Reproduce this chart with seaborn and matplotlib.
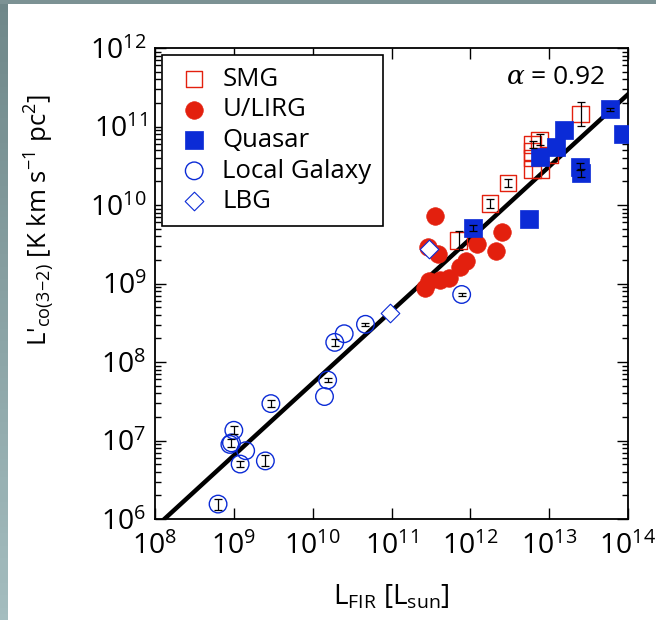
import numpy as np
import matplotlib
matplotlib.use("Agg")
import matplotlib.pyplot as plt
import pandas as pd
import seaborn as sns

# log10 values
smg_lfir = [13.40, 12.88, 12.79, 12.78, 12.78, 12.89, 12.79, 13.01, 12.48, 12.25, 11.85]
smg_lco = [11.16, 10.83, 10.77, 10.68, 10.60, 10.45, 10.45, 10.64, 10.28, 10.02, 9.55]
smg_err = [0.15, 0.07, 0.05, 0.0, 0.0, 0.0, 0.0, 0.0, 0.05, 0.06, 0.12]

ulirg_lfir = [11.55, 11.46, 11.59, 12.08, 12.40, 12.32, 11.95, 11.87, 11.73, 11.61, 11.48, 11.43]
ulirg_lco = [9.86, 9.46, 9.37, 9.50, 9.65, 9.41, 9.29, 9.21, 9.07, 9.04, 9.03, 8.94]

qso_lfir = [13.77, 13.94, 13.19, 13.09, 12.89, 13.39, 13.40, 12.74, 12.03]
qso_lco = [11.22, 10.90, 10.96, 10.74, 10.61, 10.49, 10.41, 9.82, 9.71]
qso_err = [0.02, 0.0, 0.0, 0.0, 0.0, 0.05, 0.05, 0.0, 0.04]

local_lfir = [11.89, 10.67, 10.40, 10.28, 10.19, 10.15, 9.47, 9.00, 8.97, 8.95, 9.15, 9.08, 9.40, 8.80]
local_lco = [8.86, 8.48, 8.36, 8.25, 7.77, 7.56, 7.47, 7.13, 6.97, 6.95, 6.87, 6.70, 6.74, 6.19]
local_err = [0.02, 0.02, 0.0, 0.04, 0.02, 0.0, 0.04, 0.05, 0.05, 0.0, 0.0, 0.04, 0.07, 0.07]

lbg_lfir = [10.98, 11.48]
lbg_lco = [8.62, 9.44]

# fit: log L' = alpha * log LFIR + b
alpha = 0.92
intercept = -1.47

RED = "#e3200e"
BLUE = "#0b2bd6"

plt.rcParams["font.family"] = ["Open Sans", "DejaVu Sans"]
plt.rcParams["mathtext.fontset"] = "custom"
plt.rcParams["mathtext.rm"] = "Open Sans"
plt.rcParams["mathtext.it"] = "DejaVu Serif:italic"
plt.rcParams["mathtext.default"] = "regular"

fig = plt.figure(figsize=(6.56, 6.2), dpi=100)
fig.patch.set_facecolor("white")

# slate border strips at the left and top edge
bar = fig.add_axes([0, 0, 7 / 656, 1])
bar.imshow(np.linspace(0, 1, 100).reshape(-1, 1), aspect="auto",
           cmap=matplotlib.colors.LinearSegmentedColormap.from_list("s", ["#6f8789", "#a4bdbf"]))
bar.axis("off")
top = fig.add_axes([0, 1 - 4 / 620, 1, 4 / 620])
top.set_facecolor("#7c9294")
top.set_xticks([])
top.set_yticks([])
for s in top.spines.values():
    s.set_visible(False)

ax = fig.add_axes([155 / 656, 101 / 620, 473 / 656, 471 / 620])


def df(lx, ly):
    return pd.DataFrame({"x": 10 ** np.array(lx), "y": 10 ** np.array(ly)})


ms = 160
sns.scatterplot(data=df(smg_lfir, smg_lco), x="x", y="y", ax=ax, marker="s", s=140,
                facecolor="none", edgecolor=RED, linewidth=1.0, label="SMG", zorder=3)
sns.scatterplot(data=df(ulirg_lfir, ulirg_lco), x="x", y="y", ax=ax, marker="o", s=ms,
                color=RED, edgecolor=RED, linewidth=0.5, label="U/LIRG", zorder=3)
sns.scatterplot(data=df(qso_lfir, qso_lco), x="x", y="y", ax=ax, marker="s", s=ms,
                color=BLUE, edgecolor=BLUE, linewidth=0.5, label="Quasar", zorder=4)
sns.scatterplot(data=df(local_lfir, local_lco), x="x", y="y", ax=ax, marker="o", s=ms,
                facecolor="none", edgecolor=BLUE, linewidth=1.0, label="Local Galaxy", zorder=4)
sns.scatterplot(data=df(lbg_lfir, lbg_lco), x="x", y="y", ax=ax, marker="D", s=90,
                facecolor="white", edgecolor=BLUE, linewidth=0.8, label="LBG", zorder=5)

# error bars (dex)
for lx, ly, le in [(smg_lfir, smg_lco, smg_err), (qso_lfir, qso_lco, qso_err),
                   (local_lfir, local_lco, local_err)]:
    lx, ly, le = np.array(lx), np.array(ly), np.array(le)
    m = le > 0
    yv = 10 ** ly[m]
    lo = yv - 10 ** (ly[m] - le[m])
    hi = 10 ** (ly[m] + le[m]) - yv
    ax.errorbar(10 ** lx[m], yv, yerr=[lo, hi], fmt="none", ecolor="black",
                elinewidth=0.9, capsize=3, capthick=0.9, zorder=6)

# fit line
fx = np.logspace(8, 14, 50)
fit = pd.DataFrame({"x": fx, "y": 10 ** (alpha * np.log10(fx) + intercept)})
sns.lineplot(data=fit, x="x", y="y", ax=ax, color="black", linewidth=3.2, zorder=2)

ax.set_xscale("log")
ax.set_yscale("log")
ax.set_xlim(1e8, 1e14)
ax.set_ylim(1e6, 1e12)
ax.set_xticks([10.0 ** k for k in range(8, 15)])
ax.set_yticks([10.0 ** k for k in range(6, 13)])
ax.tick_params(which="both", direction="in", top=True, right=True, labelsize=20.5, width=1.0)
ax.tick_params(which="major", length=8)
ax.tick_params(axis="x", which="major", pad=10)
ax.tick_params(axis="y", which="major", pad=6)
ax.tick_params(which="minor", length=4)
for s in ax.spines.values():
    s.set_linewidth(1.3)

ax.set_xlabel(r"L$_{FIR}$ [L$_{sun}$]", fontsize=20)
ax.xaxis.set_label_coords(0.50, -0.135)
ax.set_ylabel(r"L'$_{co(3\!-\!2)}$ [K km s$^{-1}$ pc$^{2}$]", fontsize=18.5)
ax.yaxis.set_label_coords(-0.21, 0.635)

ax.text(0.951, 0.938, r"$\it{\alpha}$ = 0.92", transform=ax.transAxes, ha="right",
        va="center", fontsize=19)

leg = ax.legend(loc="upper left", bbox_to_anchor=(0.015, 0.985), borderaxespad=0,
                fontsize=18.5, frameon=True, fancybox=False, framealpha=1,
                edgecolor="black", handletextpad=0.3, labelspacing=0.22,
                borderpad=0.45, handlelength=1.6)
leg.get_frame().set_linewidth(1.2)

fig.savefig("out.png", dpi=100)
